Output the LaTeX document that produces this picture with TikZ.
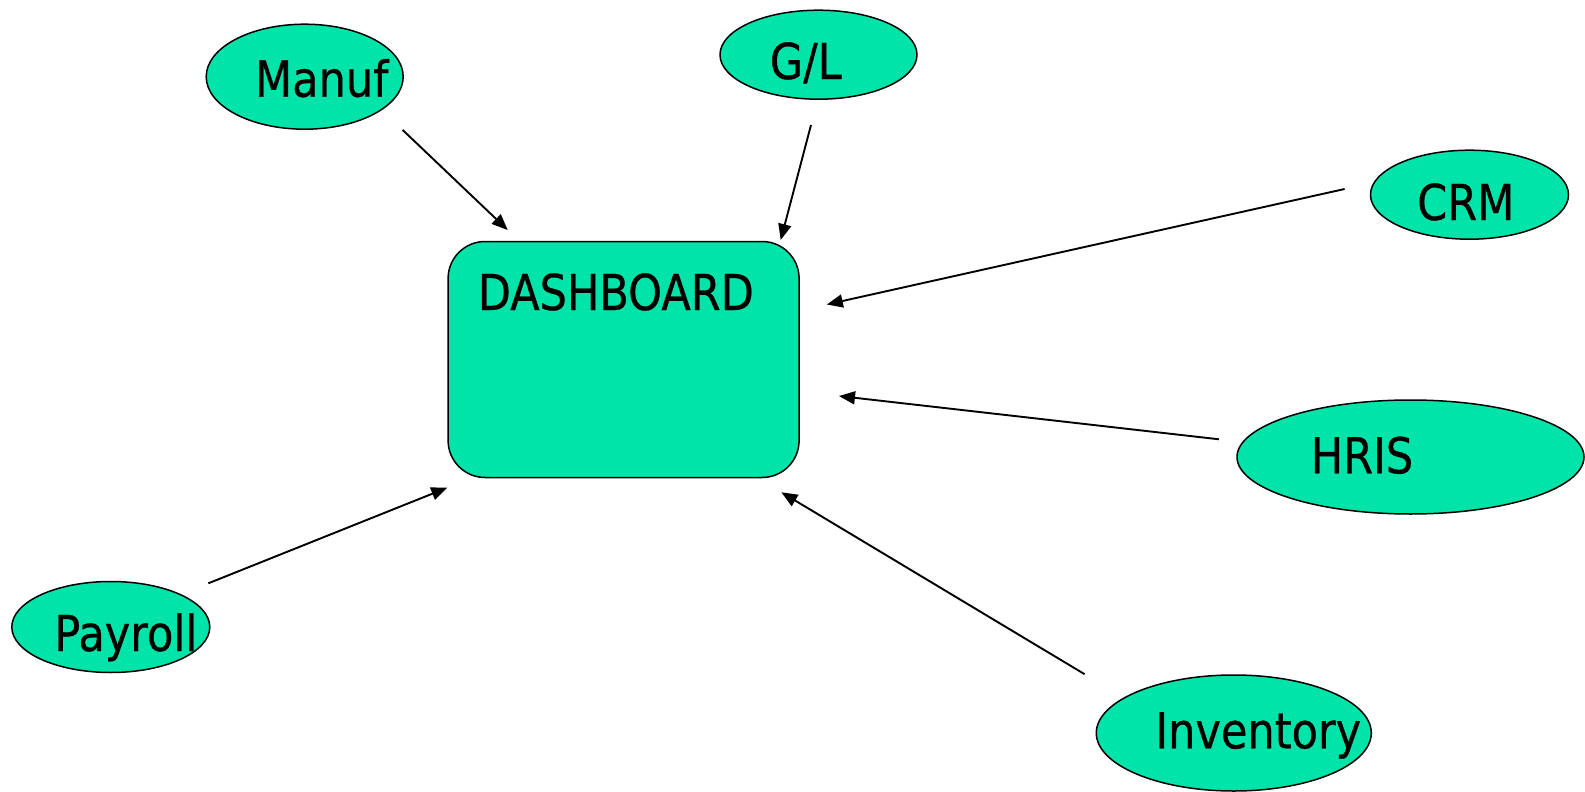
\documentclass[tikz,border=0pt]{standalone}
\usepackage{fontspec}
\setmainfont{DejaVu Sans}[FakeStretch=0.87, FakeBold=0.6]
\usetikzlibrary{shapes.geometric,arrows.meta}
\definecolor{sysfill}{RGB}{0,228,170}
\tikzset{
  sysnode/.style={ellipse, draw=black, line width=1.5pt, fill=sysfill, inner sep=0pt},
  hubnode/.style={rectangle, rounded corners=37pt, draw=black, line width=1.5pt, fill=sysfill, inner sep=0pt},
  lbl/.style={anchor=base, inner sep=0pt, font=\fontsize{49.5}{51}\selectfont},
  feed/.style={line width=1.9pt, -{Triangle[length=16pt, width=13pt]}}
}
\begin{document}
\begin{tikzpicture}[x=1pt, y=-1pt]
\useasboundingbox (0,0) rectangle (1585,792);

% central dashboard
\node[hubnode, minimum width=351pt, minimum height=236pt] (dash) at (623.6,359.5) {};
\node[lbl] (dashtxt) at (615.8,310) {DASHBOARD};

% source systems
\node[sysnode, minimum width=197pt, minimum height=105pt] (manuf) at (304.7,76.7) {};
\node[lbl] (manuftxt) at (321.7,96.7) {Manuf};

\node[sysnode, minimum width=197pt, minimum height=89pt] (gl) at (818.5,54.7) {};
\node[lbl] (gltxt) at (805.8,79) {G/L};

\node[sysnode, minimum width=198pt, minimum height=89pt] (crm) at (1469.5,194.7) {};
\node[lbl] (crmtxt) at (1465.8,220) {CRM};

\node[sysnode, minimum width=347pt, minimum height=114pt] (hris) at (1410.5,457) {};
\node[lbl] (hristxt) at (1362,473.3) {HRIS};

\node[sysnode, minimum width=275pt, minimum height=116pt] (inv) at (1233.8,733) {};
\node[lbl] (invtxt) at (1258.3,748.3) {Inventory};

\node[sysnode, minimum width=198pt, minimum height=91pt] (pay) at (110.8,627) {};
\node[lbl] (paytxt) at (125.8,651) {Payroll};

% connector end points
\coordinate (manufA) at (402.7,130);   \coordinate (manufB) at (507.7,230);
\coordinate (glA) at (811,125);        \coordinate (glB) at (780.7,240);
\coordinate (crmA) at (1344.6,189);    \coordinate (crmB) at (826.8,304.5);
\coordinate (hrisA) at (1219,439.3);   \coordinate (hrisB) at (839,396);
\coordinate (invA) at (1084.6,674.2);  \coordinate (invB) at (781.4,492.3);
\coordinate (payA) at (208.3,583.3);   \coordinate (payB) at (447.3,487.7);

% data feeds into the dashboard
\draw[feed] (manufA) -- (manufB);
\draw[feed] (glA) -- (glB);
\draw[feed] (crmA) -- (crmB);
\draw[feed] (hrisA) -- (hrisB);
\draw[feed] (invA) -- (invB);
\draw[feed] (payA) -- (payB);
\end{tikzpicture}
\end{document}
